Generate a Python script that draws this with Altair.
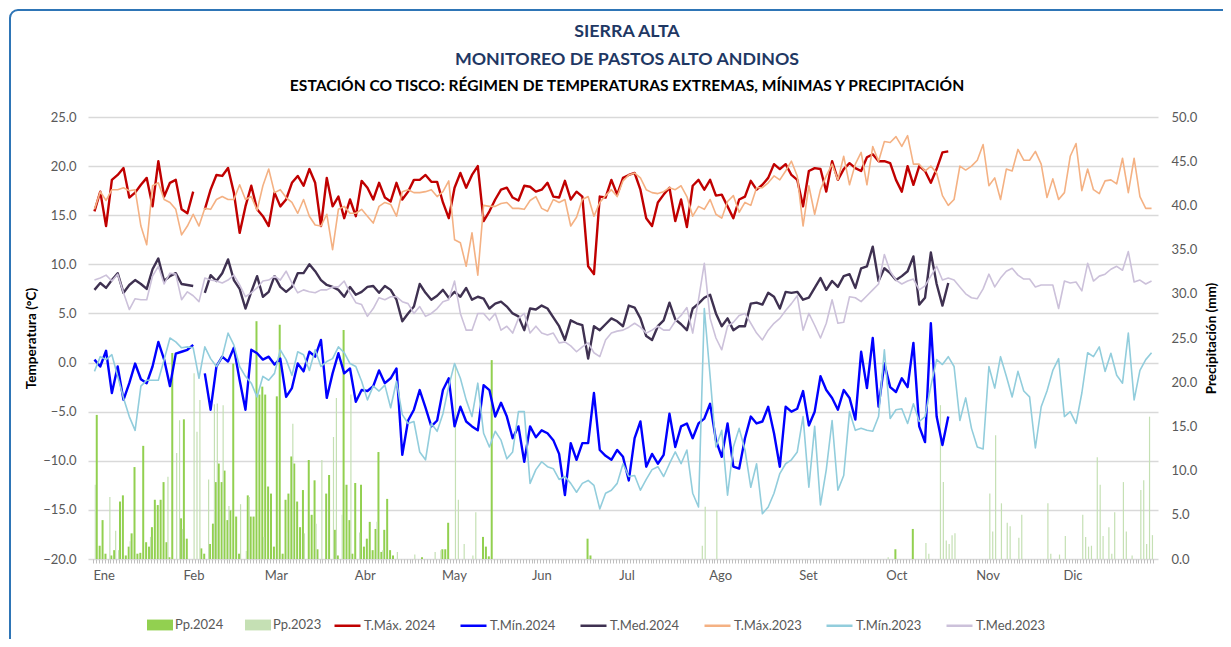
import altair as alt
import pandas as pd

# ---------------- data ----------------
MONTHS = ["Ene", "Feb", "Mar", "Abr", "May", "Jun", "Jul", "Ago", "Set", "Oct", "Nov", "Dic"]
MONTH_START = [0, 31, 59, 90, 120, 151, 181, 212, 243, 273, 304, 334]
STEP = 2  # temperatures were read every 2 days (day index = position * STEP)

TITLE_1 = "SIERRA ALTA"
TITLE_2 = "MONITOREO DE PASTOS ALTO ANDINOS"
TITLE_3 = "ESTACIÓN CO TISCO: RÉGIMEN DE TEMPERATURAS EXTREMAS, MÍNIMAS Y PRECIPITACIÓN"

tmax_2024 = [15.4, 17.4, 13.9, 18.6, 19.1, 19.8, 16.8, 17.3, 18.1, 18.8,
             15.9, 20.5, 16.9, 18.3, 18.6, 15.6, 15.2, 17.4, None, 15.6,
             17.6, 19.1, 19.0, 19.8, 17.3, 13.2, 15.9, 18.0, 15.6, 14.9,
             13.9, 17.3, 15.9, 16.6, 18.3, 19.0, 18.0, 19.7, 18.3, 13.9,
             18.8, 15.9, 16.9, 14.7, 16.6, 14.9, 18.5, 17.8, 16.6, 18.3,
             16.8, 16.4, 18.3, 16.6, 17.4, 18.6, 18.6, 19.1, 18.4, 18.4,
             16.3, 14.7, 17.8, 19.3, 17.8, 19.1, 20.0, 14.4, 15.4, 16.6,
             17.6, 17.8, 16.8, 16.5, 18.0, 17.9, 17.4, 17.6, 18.3, 16.9,
             16.8, 18.5, 16.6, 17.4, 16.9, 9.8, 9.0, 16.9, 16.8, 18.6,
             17.1, 18.8, 19.1, 19.3, 17.6, 14.7, 13.9, 16.3, 17.1, 17.8,
             14.4, 16.6, 13.8, 18.0, 18.6, 17.6, 18.6, 17.0, 17.1, 15.9,
             14.7, 16.6, 16.9, 18.5, 17.6, 18.1, 18.8, 20.2, 19.7, 20.2,
             19.1, 18.6, 15.9, 19.5, 19.8, 19.7, 17.4, 20.5, 18.6, 19.7,
             20.3, 19.8, 19.5, 20.9, 21.2, 20.5, 20.5, 20.3, 18.6, 17.4,
             20.0, 18.1, 20.0, 19.5, 18.3, 19.7, 21.4, 21.5]

tmin_2024 = [0.3, -0.4, 1.2, -3.1, -0.4, -3.8, -2.1, -0.1, -1.7, -2.1,
             -0.4, 2.1, 0.3, -2.4, 0.9, 1.1, 1.3, 1.8, None, -1.1,
             -4.8, -0.4, 0.6, 0.1, 1.5, -1.8, -4.8, 1.3, 0.95, 0.3,
             0.6, -0.2, 0.4, -3.5, -2.6, -0.1, -0.9, 1.1, 0.6, 2.3,
             -3.6, -1.1, 0.95, -1.1, -0.6, -4.0, -2.8, -2.9, -2.4, -0.8,
             -2.1, -1.6, -0.6, -9.4, -5.9, -4.8, -2.8, -4.6, -6.5, -5.9,
             -2.8, -1.6, -6.5, -4.5, -6.0, -6.5, -6.9, -2.3, -2.8, -5.5,
             -4.1, -5.5, -7.7, -6.5, -10.1, -6.5, -7.6, -6.9, -7.2, -7.9,
             -9.3, -13.5, -8.2, -9.9, -8.2, -8.2, -3.1, -8.9, -9.5, -9.9,
             -8.9, -9.6, -12.0, -7.7, -6.0, -10.6, -9.3, -10.3, -9.4, -5.2,
             -8.6, -6.5, -6.2, -7.7, -6.2, -5.7, -4.2, -7.9, -9.6, -6.2,
             -10.6, -10.8, -7.7, -5.5, -6.2, -6.0, -4.5, -7.2, -10.6, -4.5,
             -5.0, -4.7, -2.9, -6.4, -5.0, -1.4, -2.8, -3.6, -4.8, -2.8,
             -3.6, -5.8, 1.1, -2.6, 2.5, -4.5, -0.1, -2.5, -3.0, -1.6,
             -2.5, 2.0, -6.5, -8.1, 4.0, -5.5, -8.4, -5.5]

tmed_2024 = [7.4, 8.1, 7.6, 8.4, 9.1, 7.1, 7.9, 8.4, 8.0, 7.5,
             9.5, 10.6, 8.3, 8.8, 9.1, 8.0, 7.9, 7.8, None, 7.1,
             8.9, 8.3, 9.1, 10.5, 8.4, 7.5, 5.5, 7.2, 8.8, 6.7,
             7.2, 8.8, 7.7, 7.2, 7.7, 9.1, 9.1, 10.0, 9.3, 8.4,
             7.9, 7.7, 7.4, 6.7, 7.7, 6.9, 7.2, 7.7, 7.8, 7.1,
             7.8, 7.4, 6.4, 4.2, 5.0, 5.7, 8.0, 7.1, 6.4, 6.8,
             7.4, 6.6, 7.2, 6.7, 7.6, 6.4, 6.7, 6.5, 5.5, 6.0,
             6.2, 5.7, 5.0, 4.7, 3.3, 5.5, 5.4, 5.8, 5.5, 4.6,
             3.7, 2.3, 4.3, 4.0, 3.8, 0.4, 3.7, 3.3, 3.9, 4.5,
             4.2, 3.7, 5.8, 5.6, 4.5, 2.7, 2.3, 3.7, 4.3, 6.1,
             4.4, 3.9, 3.3, 5.5, 6.0, 6.6, 6.9, 5.0, 3.7, 4.5,
             3.3, 3.7, 3.7, 6.0, 6.1, 5.9, 7.1, 6.7, 5.5, 7.2,
             7.1, 7.2, 6.4, 6.6, 7.6, 8.6, 7.4, 8.3, 7.7, 8.8,
             9.0, 7.6, 9.6, 9.8, 11.8, 8.3, 9.6, 9.1, 8.4, 8.8,
             9.3, 10.8, 5.9, 6.6, 11.2, 8.0, 5.8, 8.1]

tmax_2023 = [15.6, 17.4, 16.5, 17.6, 17.6, 17.8, 17.5, 17.6, 13.9, 12.0,
             18.0, 18.3, 16.6, 16.3, 15.6, 13.0, 13.9, 15.1, 13.9, 15.7,
             15.6, 16.6, 16.9, 16.6, 16.6, 18.1, 16.6, 16.9, 15.5, 18.0,
             19.7, 17.3, 17.6, 16.8, 16.3, 15.2, 16.6, 14.9, 14.0, 13.9,
             15.1, 11.5, 15.6, 15.9, 15.2, 15.2, 15.6, 14.9, 14.2, 15.9,
             16.3, 16.1, 14.9, 17.4, 17.6, 17.3, 17.3, 17.4, 17.6, 16.9,
             17.4, 18.5, 12.5, 12.2, 9.8, 13.2, 8.9, 16.0, 15.9, 15.9,
             16.2, 16.3, 15.7, 15.7, 15.6, 16.5, 16.9, 15.7, 15.4, 16.6,
             16.3, 16.6, 13.9, 14.8, 16.6, 16.9, 14.9, 16.3, 17.0, 17.6,
             16.9, 18.5, 19.1, 19.3, 18.8, 17.6, 17.3, 17.2, 17.4, 17.8,
             17.6, 18.0, 16.9, 14.9, 15.9, 15.6, 16.6, 15.1, 14.7, 16.4,
             17.0, 15.3, 16.3, 16.0, 17.8, 17.8, 18.3, 19.0, 18.6, 19.5,
             20.5, 19.0, 13.9, 18.0, 15.1, 17.6, 19.0, 20.2, 18.6, 21.0,
             18.1, 20.2, 21.4, 18.1, 22.0, 20.5, 22.5, 22.4, 23.0, 22.0,
             23.1, 20.2, 20.2, 19.5, 20.0, 19.3, 17.0, 16.0, 16.6, 20.0,
             19.6, 20.0, 20.6, 22.2, 18.0, 18.8, 16.6, 19.7, 19.5, 21.7,
             20.6, 20.6, 21.5, 20.2, 16.8, 18.7, 16.6, 17.3, 21.0, 22.3,
             17.5, 19.7, 17.6, 17.2, 18.5, 18.6, 18.2, 20.8, 17.3, 20.8,
             16.9, 15.7, 15.7]

tmin_2023 = [-0.9, 0.6, 0.3, 0.8, -1.4, -3.6, -5.5, -6.9, -2.4, -1.8,
             -1.8, -1.8, 0.3, 2.5, 2.1, 1.5, 1.6, 1.5, -1.6, 1.6,
             0.4, -0.4, 0.6, 3.0, 1.8, -0.4, -1.4, -2.1, -3.5, -1.4,
             -1.8, -1.1, 1.3, 0.3, -1.3, 1.1, 0.8, -0.8, 1.3, -0.4,
             0.1, 0.4, 1.6, 1.0, -0.1, -0.4, -1.9, -3.8, -2.4, -2.9,
             -2.3, -4.6, -1.9, -5.3, -6.2, -6.0, -9.1, -9.9, -6.2, -7.0,
             -5.2, -2.4, -0.1, -1.6, -3.8, -5.5, -2.1, -7.2, -8.6, -7.0,
             -7.9, -9.8, -9.1, -5.0, -5.0, -12.3, -10.9, -10.1, -10.6, -10.8,
             -11.9, -11.6, -12.3, -13.2, -12.3, -12.0, -12.5, -14.9, -13.3, -13.0,
             -12.3, -10.3, -11.6, -11.5, -13.0, -11.9, -10.9, -10.6, -11.6, -10.3,
             -9.1, -10.3, -8.9, -13.3, -14.7, 5.5, -1.4, -8.6, -6.9, -13.5,
             -8.6, -6.7, -8.9, -12.7, -10.3, -15.4, -14.7, -13.3, -11.3, -10.3,
             -9.9, -9.1, -5.5, -12.7, -6.5, -14.5, -10.9, -5.9, -13.0, -11.5,
             -5.0, -6.9, -6.7, -6.9, -7.0, -5.5, 1.3, -5.7, -4.8, -4.7,
             -6.2, -4.2, -6.0, -5.5, -2.4, 0.3, -0.2, 0.6, -0.4, -5.9,
             -3.6, -6.7, -8.6, -8.8, -0.4, -2.6, 0.6, -1.4, -3.5, -0.9,
             -2.9, -3.5, -8.7, -4.5, -2.9, -0.8, 0.4, -5.5, -5.0, -6.2,
             -3.1, 1.0, 0.6, 1.6, -0.9, 0.95, -1.3, -2.1, 3.0, -3.8,
             -0.8, 0.3, 1.0]

tmed_2023 = [8.4, 8.6, 8.9, 8.3, 9.0, 7.1, 5.4, 6.5, 6.4, 6.4,
             8.8, 9.8, 8.0, 9.1, 9.0, 6.4, 7.2, 6.8, 6.2, 8.6,
             8.4, 8.3, 8.1, 8.4, 8.9, 7.9, 6.7, 7.1, 7.6, 8.3,
             8.4, 8.8, 8.4, 9.3, 8.1, 7.1, 7.4, 7.2, 7.1, 7.4,
             7.4, 7.7, 7.7, 8.3, 7.1, 6.1, 5.9, 4.7, 5.5, 6.6,
             6.4, 6.7, 6.7, 6.2, 6.0, 5.0, 5.7, 4.7, 5.0, 5.5,
             6.2, 6.4, 8.3, 5.0, 3.3, 3.3, 5.0, 5.0, 4.3, 5.0,
             3.3, 3.7, 3.0, 4.5, 5.0, 3.0, 3.7, 3.0, 2.8, 3.0,
             2.0, 2.1, 1.7, 1.1, 1.6, 2.0, 1.0, 0.6, 2.3, 3.0,
             3.2, 3.3, 3.6, 4.0, 3.6, 3.0, 3.3, 3.7, 3.3, 3.3,
             4.2, 4.8, 5.6, 3.0, 6.4, 10.1, 4.5, 2.5, 1.3, 3.7,
             4.1, 4.8, 5.0, 4.0, 3.0, 2.3, 3.3, 4.0, 4.5, 5.3,
             6.0, 6.8, 3.3, 5.0, 3.8, 2.5, 4.0, 6.4, 4.0, 4.1,
             6.7, 6.6, 6.2, 6.8, 7.4, 8.0, 11.0, 9.3, 8.4, 8.0,
             8.3, 8.5, 7.4, 7.8, 8.8, 9.8, 8.4, 8.6, 8.4, 7.7,
             7.0, 6.6, 6.5, 7.5, 9.0, 7.7, 8.6, 9.3, 9.6, 8.9,
             8.5, 8.5, 7.7, 7.9, 7.9, 7.9, 5.5, 8.3, 8.1, 8.2,
             7.3, 10.1, 8.3, 8.8, 9.0, 9.5, 9.8, 9.4, 11.3, 8.2,
             8.4, 8.0, 8.3]

pp_2024_day = [1, 2, 3, 4, 6, 7, 9, 10, 11, 12, 13, 14, 15, 16, 17, 18, 19, 20, 21, 22,
               23, 24, 25, 26, 27, 30, 31, 32, 37, 38, 40, 41, 42, 43, 44, 45, 46, 47, 48, 49,
               50, 53, 54, 55, 56, 57, 58, 59, 60, 61, 62, 63, 64, 65, 66, 67, 68, 69, 70, 71,
               72, 74, 75, 76, 77, 80, 81, 83, 84, 86, 87, 88, 89, 90, 92, 93, 94, 95, 96, 97,
               98, 99, 100, 101, 102, 103, 113, 120, 121, 122, 134, 135, 136, 137, 170, 171, 276, 282]
pp_2024_mm = [16.3, 1.5, 4.4, 0.6, 0.4, 1.0, 6.5, 7.2, 0.4, 1.4, 2.9, 10.4, 0.6, 0.7, 12.8, 1.9, 1.4, 3.6, 6.7, 6.1,
              6.7, 8.7, 1.9, 0.2, 23.3, 4.6, 15.8, 2.3, 1.2, 0.6, 1.7, 4.0, 8.7, 10.8, 8.7, 10.0, 4.4, 5.5, 22.1, 4.8,
              0.6, 7.2, 4.8, 4.8, 26.9, 18.6, 19.5, 18.6, 8.2, 7.4, 1.4, 18.4, 26.5, 0.6, 6.7, 7.4, 11.6, 10.8, 6.5, 3.6,
              7.8, 11.2, 5.0, 8.9, 1.1, 7.4, 9.5, 3.3, 0.4, 25.9, 8.4, 4.4, 0.6, 8.6, 8.4, 1.4, 2.3, 4.2, 1.0, 3.4,
              12.1, 0.8, 3.3, 6.8, 1.0, 0.4, 0.2, 1.1, 1.1, 4.1, 2.5, 1.4, 0.3, 22.5, 2.3, 0.4, 1.1, 3.4]

pp_2023_day = [0, 5, 7, 8, 12, 19, 25, 28, 29, 30, 34, 35, 36, 39, 41, 42, 44, 46, 50, 52,
               53, 58, 66, 68, 72, 76, 78, 82, 83, 85, 88, 91, 97, 99, 104, 110, 117, 119, 124, 125,
               127, 130, 131, 209, 210, 214, 273, 286, 287, 291, 292, 293, 294, 295, 296, 308, 309, 310, 312, 314,
               315, 318, 319, 328, 329, 332, 334, 340, 341, 342, 343, 345, 346, 347, 349, 350, 351, 354, 355, 357,
               360, 361, 362, 363, 364]
pp_2023_mm = [8.4, 7.0, 3.2, 1.0, 2.0, 2.5, 9.3, 12.0, 15.7, 3.4, 21.0, 14.4, 18.0, 9.0, 17.5, 17.6, 17.4, 6.0, 6.2, 0.9,
              7.0, 2.5, 3.0, 15.3, 2.9, 4.0, 11.2, 13.8, 18.2, 5.0, 18.6, 3.0, 4.2, 1.0, 0.8, 0.5, 0.8, 1.0, 22.0, 6.7,
              1.7, 0.4, 5.3, 1.5, 5.9, 5.5, 0.2, 1.8, 0.6, 17.4, 8.7, 2.1, 1.7, 2.7, 2.9, 7.4, 3.1, 14.0, 6.3, 4.1,
              3.7, 2.4, 5.0, 6.3, 0.6, 0.5, 2.6, 5.0, 2.5, 1.4, 1.5, 11.5, 8.4, 2.6, 3.6, 0.6, 5.3, 8.7, 3.1, 0.4,
              7.8, 8.9, 1.7, 16.1, 2.7]

BAR_NAMES = ["Pp.2024", "Pp.2023"]
BAR_COLORS = ["#92d050", "#c5e0b4"]
LINE_NAMES = ["T.Máx. 2024", "T.Mín.2024", "T.Med.2024", "T.Máx.2023", "T.Mín.2023", "T.Med.2023"]
LINE_COLORS = ["#c00000", "#0000ff", "#3f3151", "#f4b183", "#92cddc", "#ccc1da"]

# ---------------- tables ----------------
def line_table(values, name):
    rows, seg = [], 0
    for i, v in enumerate(values):
        if v is None:
            seg += 1
            continue
        rows.append({"day": i * STEP, "temp": v, "series": name, "seg": f"{name}-{seg}"})
    return rows

lines24 = pd.DataFrame(line_table(tmax_2024, LINE_NAMES[0]) + line_table(tmin_2024, LINE_NAMES[1])
                       + line_table(tmed_2024, LINE_NAMES[2]))
lines23 = pd.DataFrame(line_table(tmax_2023, LINE_NAMES[3]) + line_table(tmin_2023, LINE_NAMES[4])
                       + line_table(tmed_2023, LINE_NAMES[5]))
bars24 = pd.DataFrame({"day": pp_2024_day, "mm": pp_2024_mm, "series": BAR_NAMES[0]})
bars23 = pd.DataFrame({"day": pp_2023_day, "mm": pp_2023_mm, "series": BAR_NAMES[1]})

FONT = "Lato"
GRAY = "#595959"

tick_vals = [k - 0.5 for k in range(366)]
starts_js = "[" + ",".join(str(s - 0.5) for s in MONTH_START) + "]"
names_js = "[" + ",".join(f"'{m}'" for m in MONTHS) + "]"
label_expr = f"{names_js}[indexof({starts_js}, datum.value)] || ''"

x_enc = alt.X("day:Q", title=None,
              scale=alt.Scale(domain=[-0.5, 364.5], nice=False, zero=False),
              axis=alt.Axis(values=tick_vals, labelExpr=label_expr, labelAlign="left",
                            labelBaseline="top", labelOverlap=False, labelFlush=False,
                            labelBound=False, labelPadding=6,
                            labelFont=FONT, labelFontSize=13, labelColor=GRAY,
                            domain=False, grid=False, ticks=True, tickSize=4,
                            tickColor="#bfbfbf", tickWidth=1))

temp_scale = alt.Scale(domain=[-20, 25], nice=False, zero=False)
temp_axis = alt.Axis(orient="left", values=list(range(-20, 26, 5)), format=".1f",
                     grid=True, gridColor="#d9d9d9", gridWidth=1.5, domain=False, ticks=False,
                     labelFont=FONT, labelFontSize=13, labelColor=GRAY, labelPadding=12,
                     title="Temperatura (°C)", titleFont=FONT, titleFontSize=13.5,
                     titleFontWeight="bold", titleColor="#000000", titlePadding=4)
pp_scale = alt.Scale(domain=[0, 50], nice=False, zero=True)
pp_axis = alt.Axis(orient="right", values=list(range(0, 51, 5)), format=".1f",
                   grid=False, domain=False, ticks=False,
                   labelFont=FONT, labelFontSize=13, labelColor=GRAY, labelPadding=13,
                   title="Precipitación (mm)", titleFont=FONT, titleFontSize=13.5,
                   titleFontWeight="bold", titleColor="#000000", titlePadding=22,
                   titleAngle=-90)

bar_color = alt.Color("series:N",
                      scale=alt.Scale(domain=BAR_NAMES, range=BAR_COLORS),
                      legend=alt.Legend(orient="none", legendX=61, legendY=497, direction="horizontal",
                                        title=None, symbolType="M-1.2,-0.5H1.2V0.5H-1.2Z",
                                        symbolSize=470, symbolStrokeWidth=0, labelOffset=4,
                                        columnPadding=20, labelFont=FONT, labelFontSize=13,
                                        labelColor=GRAY))
line_stroke = alt.Stroke("series:N",
                         scale=alt.Scale(domain=LINE_NAMES, range=LINE_COLORS),
                         legend=alt.Legend(orient="none", legendX=245, legendY=494,
                                           direction="horizontal", title=None,
                                           symbolType="stroke", symbolSize=676,
                                           symbolStrokeWidth=2.5, labelOffset=2,
                                           columnPadding=19, labelFont=FONT, labelFontSize=13,
                                           labelColor=GRAY))

b24 = alt.Chart(bars24).mark_bar(size=2, xOffset=-0.6).encode(
    x=x_enc, y=alt.Y("mm:Q", scale=pp_scale, axis=pp_axis), y2=alt.datum(0), color=bar_color)
b23 = alt.Chart(bars23).mark_bar(size=1.2, xOffset=0.9).encode(
    x=x_enc, y=alt.Y("mm:Q", scale=pp_scale, axis=pp_axis), y2=alt.datum(0), color=bar_color)
precip = alt.layer(b24, b23)

l24 = alt.Chart(lines24).mark_line(strokeWidth=2.4, strokeJoin="round").encode(
    x=x_enc, y=alt.Y("temp:Q", scale=temp_scale, axis=temp_axis),
    stroke=line_stroke, detail="seg:N")
l23 = alt.Chart(lines23).mark_line(strokeWidth=1.6, strokeJoin="round").encode(
    x=x_enc, y=alt.Y("temp:Q", scale=temp_scale, axis=temp_axis),
    stroke=line_stroke, detail="seg:N")
temps = alt.layer(l24, l23)

frame = alt.Chart(pd.DataFrame({"k": [0]})).mark_rect(
    fill="#ffffff", fillOpacity=0, stroke="#2e75b6", strokeWidth=2, cornerRadius=8).encode(
    x=alt.value(-78), x2=alt.value(1300), y=alt.value(-107), y2=alt.value(600))


def heading(text, size, color, y):
    return alt.Chart(pd.DataFrame({"t": [text]})).mark_text(
        font=FONT, fontSize=size, fontWeight="bold", color=color,
        align="center", baseline="middle").encode(
        text="t:N", x=alt.value(539), y=alt.value(y))


titles = alt.layer(heading(TITLE_1, 17.8, "#1f3864", -85),
                   heading(TITLE_2, 17.8, "#1f3864", -57),
                   heading(TITLE_3, 15.6, "#000000", -31))

chart = alt.layer(frame, titles, precip, temps).resolve_scale(y="independent").properties(
    width=1070, height=442,
    autosize=alt.AutoSizeParams(type="none"),
    padding={"left": 80, "top": 109, "right": 65, "bottom": 80},
).configure(background="#ffffff", font=FONT).configure_view(stroke=None)

chart.save("out.html", embed_options={"renderer": "svg", "actions": False})
